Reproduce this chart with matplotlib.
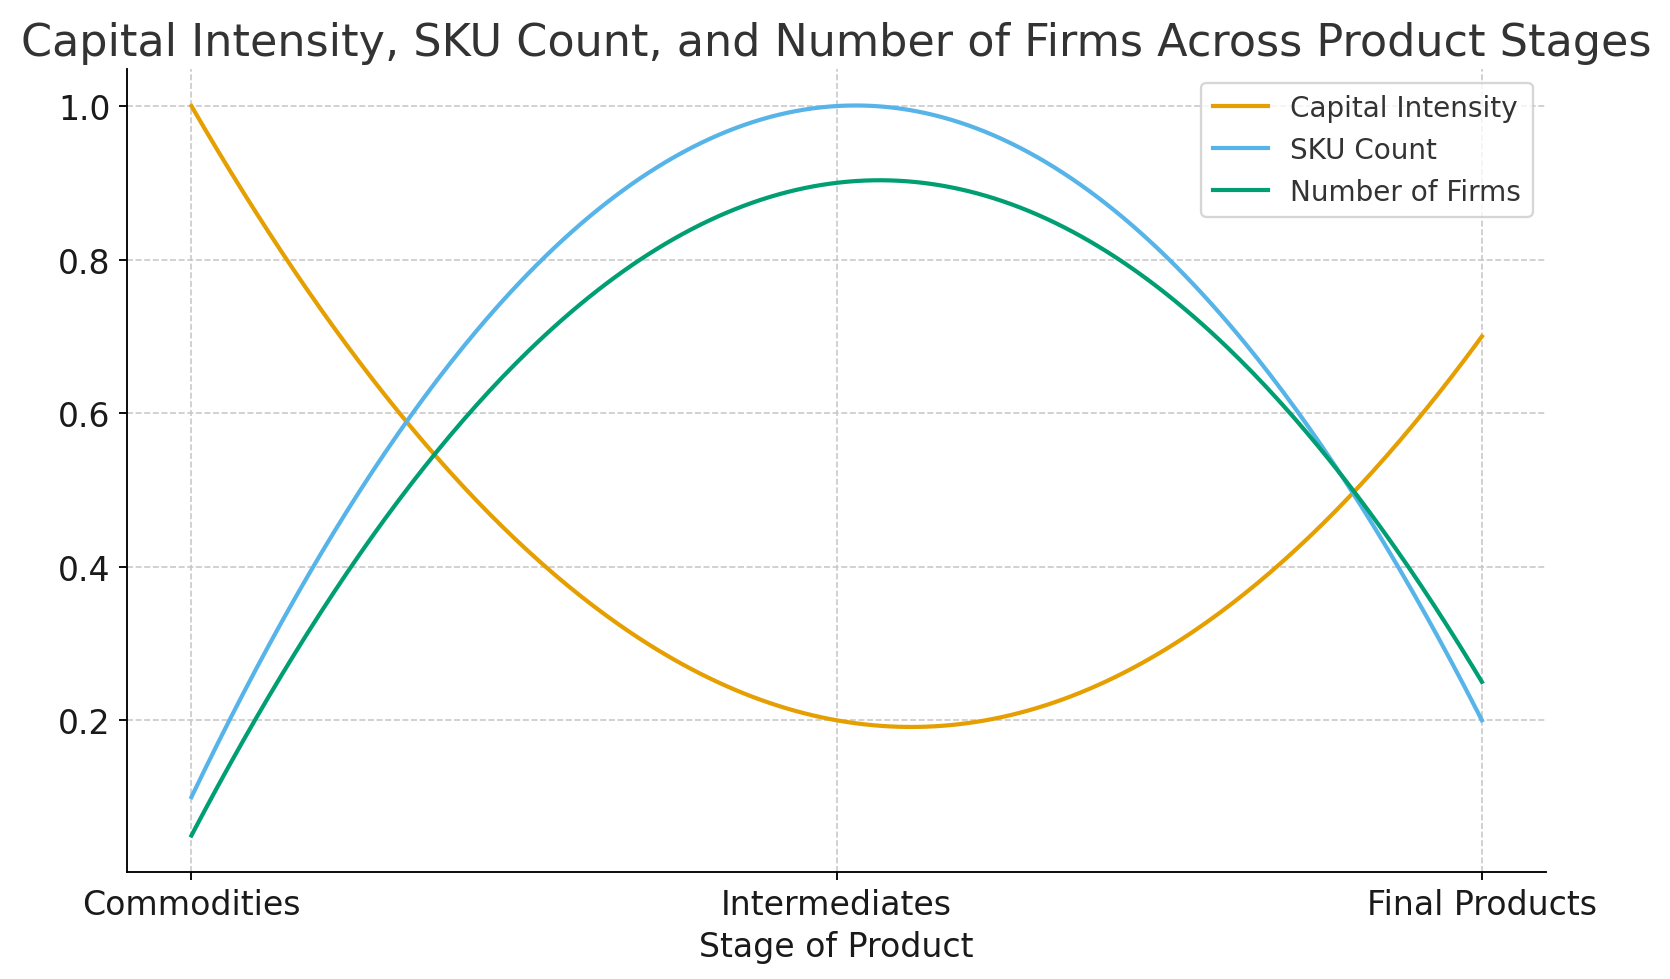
import numpy as np
import matplotlib.pyplot as plt

stages = ['Commodities', 'Intermediates', 'Final Products']
capital_intensity = [1.0, 0.2, 0.7]
sku_count = [0.1, 1.0, 0.2]
num_firms = [0.05, 0.9, 0.25]

x = np.arange(len(stages))
x_smooth = np.linspace(x.min(), x.max(), 300)

fig, ax = plt.subplots(figsize=(10, 980 / 167), dpi=167)
fig.subplots_adjust(left=0.076, right=0.926, top=0.9286, bottom=0.1092)

series = [
    (capital_intensity, 'Capital Intensity', '#E69F00'),
    (sku_count, 'SKU Count', '#56B4E9'),
    (num_firms, 'Number of Firms', '#009E73'),
]
for vals, label, color in series:
    # smooth curve through the three stage points (quadratic)
    coef = np.polyfit(x, vals, 2)
    ax.plot(x_smooth, np.polyval(coef, x_smooth), color=color, lw=1.8, label=label)

ax.set_xticks(x)
ax.set_xticklabels(stages, fontsize=14.3, color='#1a1a1a')
ax.tick_params(axis='y', labelsize=14.3, labelcolor='#1a1a1a')
ax.set_yticks([0.2, 0.4, 0.6, 0.8, 1.0])
ax.set_xlabel('Stage of Product', fontsize=14.3, color='#1a1a1a')
ax.set_title('Capital Intensity, SKU Count, and Number of Firms Across Product Stages',
             fontsize=19.2, color='#333333')
ax.grid(True, linestyle='--', color='#c8c8c8', linewidth=0.7)
ax.spines['top'].set_visible(False)
ax.spines['right'].set_visible(False)
leg = ax.legend(fontsize=12, loc='upper right')
for t in leg.get_texts():
    t.set_color('#333333')

fig.savefig('out.png')
